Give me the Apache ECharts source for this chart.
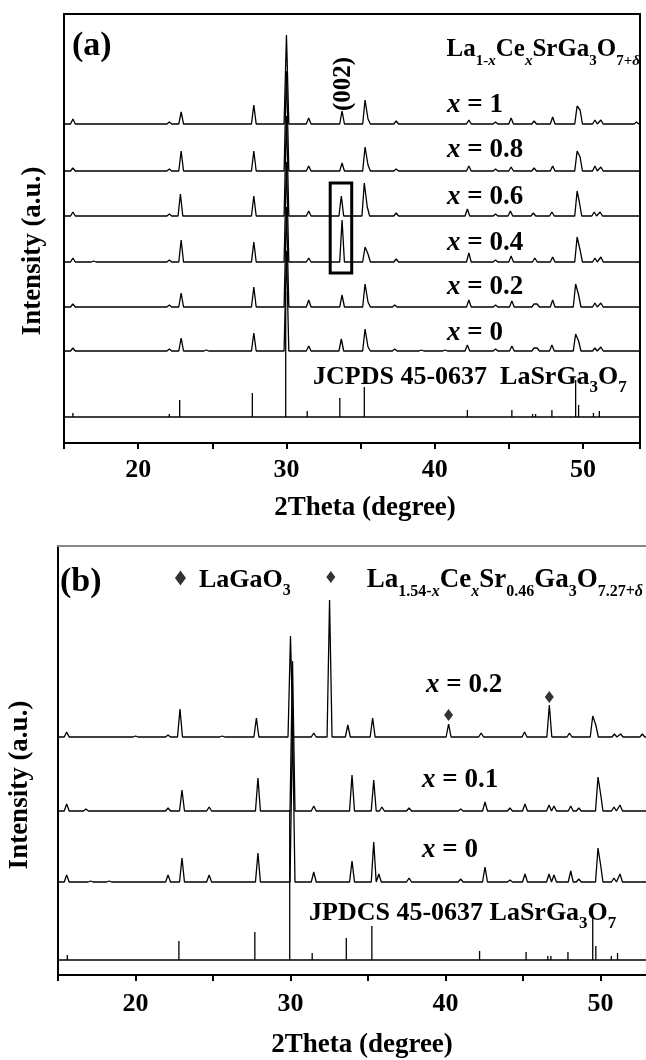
<!DOCTYPE html>
<html><head><meta charset="utf-8">
<script src="https://cdn.jsdelivr.net/npm/echarts@6/dist/echarts.min.js"></script>
<style>html,body{margin:0;padding:0;background:#fff}#c{width:646px;height:1060px}</style>
</head><body><div id="c"></div>
<script>
// ---------- DATA ----------
const tickLabels = [20, 30, 40, 50];
// Panel (a): peaks [2theta, intensity]
const peaksA_x1  = [[15.6,5],[22.1,2],[22.9,12],[27.8,19],[30.0,89],[31.5,6],[33.75,13],[35.3,24],[35.5,5],[37.4,3],[42.3,4],[44.1,2],[45.15,6],[46.7,3],[47.95,7],[49.6,18],[49.8,14],[50.8,4],[51.2,4],[53.6,2]];
const peaksA_x08 = [[15.6,3],[22.1,2],[22.9,20],[27.8,20],[30.0,100],[31.5,5],[33.75,8],[35.3,24],[35.5,6],[37.4,2],[42.3,5],[44.1,2],[45.15,4],[46.7,3],[47.95,5],[49.6,20],[49.8,14],[50.8,5],[51.2,4]];
const peaksA_x06 = [[15.6,4],[22.1,2],[22.85,22],[27.8,20],[30.0,100],[31.5,5],[33.7,20],[35.25,33],[35.45,9],[37.4,3],[42.2,7],[44.1,2],[45.1,5],[46.65,3],[47.9,4],[49.6,25],[49.75,14],[50.75,4],[51.15,4]];
const peaksA_x04 = [[15.6,4],[17.0,1],[22.1,2],[22.9,22],[27.8,20],[30.0,100],[31.5,4],[33.75,42],[35.3,15],[35.5,8],[37.4,3],[42.3,9],[44.1,2],[45.15,6],[46.75,4],[47.95,5],[49.6,25],[49.8,12],[50.8,4],[51.2,5]];
const peaksA_x02 = [[15.6,3],[22.1,2],[22.9,14],[27.8,20],[30.0,100],[31.5,7],[33.75,12],[35.3,23],[35.5,5],[37.3,2],[42.3,7],[44.1,2],[45.2,6],[46.7,3],[46.9,3],[47.95,7],[49.5,23],[49.7,12],[50.8,4],[51.2,4]];
const peaksA_x0  = [[15.6,3],[22.1,2],[22.9,13],[24.6,1],[27.8,18],[30.0,100],[31.5,5],[33.7,12],[35.3,22],[35.5,4],[37.3,2],[39.1,1],[40.7,1],[42.2,6],[44.1,2],[45.2,5],[46.7,3],[46.9,3],[47.9,6],[49.5,17],[49.7,10],[50.8,3],[51.2,4]];
const sticksA    = [[15.6,4],[17.0,1],[20.0,1],[22.1,3],[22.8,17],[24.6,1],[27.7,24],[29.95,125],[31.4,6],[33.6,19],[35.25,30],[35.5,2],[37.2,2],[37.4,1],[39.0,1],[40.6,2],[42.2,7],[44.0,2],[45.2,7],[46.6,3],[46.8,3],[47.9,7],[48.2,2],[49.5,37],[49.7,12],[50.7,4],[51.1,6],[53.6,2]];
const offsetsA   = [319, 272, 227, 181, 136, 92];   // stacking offsets x=1 ... x=0
const stickOffsetA = 26;
const labelsA = ['1', '0.8', '0.6', '0.4', '0.2', '0'];

// Panel (b)
const peaksB_x02 = [[15.56,5],[20.0,1],[22.1,2],[22.87,28],[25.6,1],[27.8,19],[30.0,101],[31.5,4],[32.52,137],[33.7,12],[35.3,19],[40.2,13],[42.3,4],[45.1,5],[46.7,32],[48.0,4],[49.5,21],[49.7,12],[50.9,3],[51.3,3],[52.7,3]];
const peaksB_x01 = [[15.56,7],[16.8,2],[22.1,3],[23.0,21],[24.75,4],[27.9,33],[30.13,150],[31.5,5],[33.97,36],[35.37,31],[35.9,4],[37.65,3],[40.98,2],[42.55,9],[44.16,3],[45.13,7],[46.68,6],[47.0,5],[48.08,5],[48.6,3],[49.84,34],[50.0,18],[50.87,4],[51.26,6]];
const peaksB_x0  = [[15.56,7],[17.1,1],[18.3,1],[22.1,7],[23.0,24],[24.75,7],[27.9,29],[30.13,160],[31.5,10],[33.97,21],[35.37,40],[35.7,8],[37.65,4],[40.98,3],[42.55,15],[44.16,2],[45.13,8],[46.68,8],[47.0,7],[48.08,11],[48.6,3],[49.84,34],[50.0,18],[50.87,4],[51.26,8]];
const sticksB    = [[15.6,5],[17.0,1],[20.0,1],[22.1,2],[22.8,19],[24.6,1],[27.7,28],[29.95,150],[31.4,7],[33.6,22],[35.25,34],[35.5,2],[37.2,2],[37.4,1],[39.0,1],[40.6,2],[42.2,9],[44.0,2],[45.2,8],[46.6,4],[46.8,4],[47.9,8],[48.2,2],[49.5,43],[49.7,14],[50.7,4],[51.1,7],[53.6,2]];
const offsetsB   = [238, 164, 93];
const stickOffsetB = 15;
const labelsB = ['0.2', '0.1', '0'];
// LaGaO3 markers [2theta, y]
const diamondMarks = [[32.6,398],[40.2,260],[46.7,278]];
const diamondLegend = [[22.9,397]];
// highlighted (002) box [x0, x1, y0, y1]
const boxA = [32.95, 34.4, 170, 260];

// ---------- BUILD ----------
const FONT = "'Liberation Serif','Times New Roman',serif";
const XMIN = 15, XMAXA = 53.84, XMAXB = 53.13;

function buildLine(peaks, offset, halfW, xmin, xmax) {
  const pts = [[xmin, offset]];
  for (let i = 0; i < peaks.length; i++) {
    const p = peaks[i][0], h = peaks[i][1];
    const prev = peaks[i-1], next = peaks[i+1];
    if (!prev || p - halfW >= prev[0] + halfW) pts.push([p - halfW, offset]);
    pts.push([p, offset + h]);
    if (!next || next[0] - halfW >= p + halfW) pts.push([p + halfW, offset]);
  }
  pts.push([xmax, offset]);
  return pts;
}
function lineSeries(data, xi, yi, extra) {
  return Object.assign({type:'line', xAxisIndex:xi, yAxisIndex:yi, data, symbol:'none', showSymbol:false,
    lineStyle:{color:'#000', width:1.3}, silent:true, animation:false, clip:true}, extra||{});
}
const series = [];
const rowsA = [peaksA_x1, peaksA_x08, peaksA_x06, peaksA_x04, peaksA_x02, peaksA_x0];
rowsA.forEach((pk, i) => {
  const extra = {};
  if (i === 2) {
    extra.markArea = {silent:true, itemStyle:{color:'rgba(0,0,0,0)', borderColor:'#000', borderWidth:3},
      data:[[{xAxis:boxA[0], yAxis:boxA[2]},{xAxis:boxA[1], yAxis:boxA[3]}]]};
  }
  series.push(lineSeries(buildLine(pk, offsetsA[i], 0.16, XMIN, XMAXA), 0, 0, extra));
});
series.push(lineSeries(buildLine(sticksA, stickOffsetA, 0, XMIN, XMAXA), 0, 0));
const rowsB = [peaksB_x02, peaksB_x01, peaksB_x0];
rowsB.forEach((pk, i) => series.push(lineSeries(buildLine(pk, offsetsB[i], 0.16, XMIN, XMAXB), 1, 1)));
series.push(lineSeries(buildLine(sticksB, stickOffsetB, 0, XMIN, XMAXB), 1, 1));
series.push({type:'scatter', xAxisIndex:1, yAxisIndex:1, data:diamondMarks, symbol:'diamond', symbolSize:[9,12],
  itemStyle:{color:'#000'}, silent:true, animation:false});
series.push({type:'scatter', xAxisIndex:1, yAxisIndex:1, data:diamondLegend, symbol:'diamond', symbolSize:[11,15],
  itemStyle:{color:'#000'}, silent:true, animation:false});

function xAxisCfg(grid, max, margin) {
  return {gridIndex:grid, type:'value', min:XMIN, max:max, interval:5,
    axisLine:{show:true, onZero:false, lineStyle:{color:'#000', width:2}},
    axisTick:{show:true, inside:false, length:6, lineStyle:{color:'#000', width:2}},
    axisLabel:{margin:margin, fontFamily:FONT, fontWeight:'bold', fontSize:26, color:'#000',
      formatter: v => tickLabels.indexOf(Math.round(v*1000)/1000) >= 0 ? String(v) : ''},
    splitLine:{show:false}};
}
function yAxisCfg(grid, showLine) {
  return {gridIndex:grid, type:'value', min:0, max:429,
    axisLine:{show:showLine, onZero:false, lineStyle:{color:'#000', width:2}},
    axisTick:{show:false}, axisLabel:{show:false}, splitLine:{show:false}};
}

function richStyles(size, sub) {
  const base = {fontFamily:FONT, fontWeight:'bold', fill:'#000'};
  return {
    m: Object.assign({}, base, {fontSize:size, lineHeight:size+12, verticalAlign:'middle'}),
    mi: Object.assign({}, base, {fontSize:size, lineHeight:size+12, verticalAlign:'middle', fontStyle:'italic'}),
    s: Object.assign({}, base, {fontSize:sub, verticalAlign:'bottom'}),
    si: Object.assign({}, base, {fontSize:sub, verticalAlign:'bottom', fontStyle:'italic'})
  };
}
function txt(x, y, text, size, sub, align, rot) {
  return {type:'text', x:x, y:y, rotation:rot||0, silent:true,
    style:{text:text, rich:richStyles(size, sub||Math.round(size*0.58)), align:align||'left', textAlign:align||'left',
      verticalAlign:'middle', textVerticalAlign:'middle', fill:'#000',
      font:'bold '+size+'px '+FONT}};
}
const labelYA = [105, 150, 197, 243, 287, 333];
const labelYB = [685, 780, 850];
const labelXB = [426, 422, 422];
const elements = [
  txt(72, 46, '{m|(a)}', 34),
  txt(640, 50, '{m|La}{s|1-}{si|x}{m|Ce}{si|x}{m|SrGa}{s|3}{m|O}{s|7+}{si|δ}', 25, 15, 'right'),
  txt(344, 84, '{m|(002)}', 25, 14, 'center', Math.PI/2),
  txt(313, 377, '{m|JCPDS 45-0637  LaSrGa}{s|3}{m|O}{s|7}', 26, 17),
  txt(33, 251, '{m|Intensity (a.u.)}', 27, 14, 'center', Math.PI/2),
  txt(365, 508, '{m|2Theta (degree)}', 27, 14, 'center'),
  txt(60, 582, '{m|(b)}', 34),
  txt(199, 580, '{m|LaGaO}{s|3}', 26, 16),
  txt(643, 580, '{m|La}{s|1.54-}{si|x}{m|Ce}{si|x}{m|Sr}{s|0.46}{m|Ga}{s|3}{m|O}{s|7.27+}{si|δ}', 27, 16, 'right'),
  txt(309, 913, '{m|JPDCS 45-0637 LaSrGa}{s|3}{m|O}{s|7}', 26, 17),
  txt(20, 785, '{m|Intensity (a.u.)}', 27, 14, 'center', Math.PI/2),
  txt(362, 1045, '{m|2Theta (degree)}', 27, 14, 'center')
];
labelsA.forEach((l, i) => elements.push(txt(447, labelYA[i], '{mi|x}{m| = ' + l + '}', 27)));
labelsB.forEach((l, i) => elements.push(txt(labelXB[i], labelYB[i], '{mi|x}{m| = ' + l + '}', 27)));

const chart = echarts.init(document.getElementById('c'), null, {renderer:'canvas'});
chart.setOption({
  backgroundColor:'#fff',
  animation:false,
  grid:[
    {left:64, top:14, width:576, height:429, show:true, borderColor:'#000', borderWidth:2, backgroundColor:'rgba(0,0,0,0)', outerBoundsMode:'none', containLabel:false},
    {left:58, top:546, width:591, height:429, show:false, outerBoundsMode:'none', containLabel:false}
  ],
  xAxis:[
    xAxisCfg(0, XMAXA, 14),
    xAxisCfg(1, XMAXB, 16),
    {gridIndex:1, type:'value', position:'top', min:XMIN, max:XMAXB,
      axisLine:{show:true, onZero:false, lineStyle:{color:'#888', width:2}},
      axisTick:{show:false}, axisLabel:{show:false}, splitLine:{show:false}}
  ],
  yAxis:[yAxisCfg(0, false), yAxisCfg(1, true)],
  series: series,
  graphic:{elements: elements}
});
</script></body></html>
